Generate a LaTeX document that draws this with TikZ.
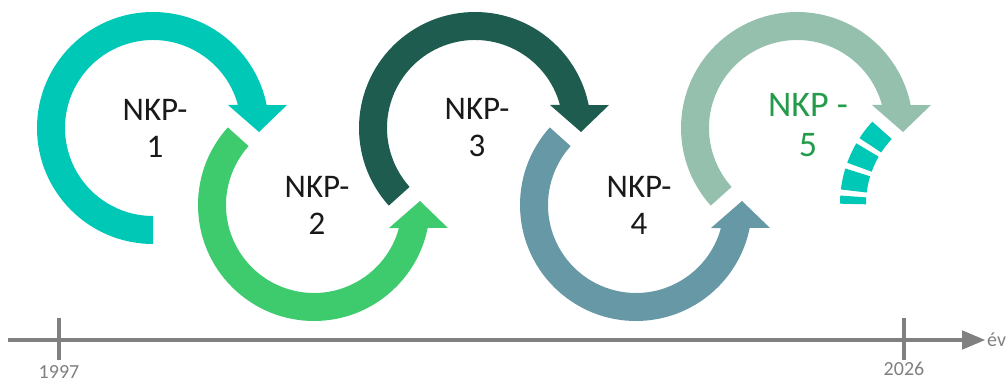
\documentclass[tikz,border=0pt]{standalone}
\usepackage{fontspec}
\setmainfont{Carlito}
\usepackage{tikz}
\usetikzlibrary{arrows,positioning,calc}

\definecolor{nkpteal}{RGB}{0,200,183}
\definecolor{nkpgreen}{RGB}{61,203,110}
\definecolor{nkpdark}{RGB}{30,92,80}
\definecolor{nkpsteel}{RGB}{102,152,165}
\definecolor{nkpsage}{RGB}{150,192,174}
\definecolor{labelgreen}{RGB}{35,155,75}
\definecolor{axisgrey}{RGB}{128,128,128}

% centre, start angle, yscale (1 = upper, -1 = lower), colour
\newcommand{\cyclearrow}[4]{%
  \begin{scope}[shift={(#1)},yscale=#3]
    \fill[#4] (#2:116) arc[start angle=#2,end angle=11.4,radius=116]
      -- (134,23) -- (106,-4) -- (75,23)
      -- (15.2:88) arc[start angle=15.2,end angle=#2,radius=88] -- cycle;
  \end{scope}}

\begin{document}
\begin{tikzpicture}[x=1pt,y=1pt,>=triangle 45,
	nkp/.style={align=center,inner sep=0pt,text=black!90,
		font=\fontsize{33}{37}\selectfont},
	year/.style={inner sep=0pt,text=axisgrey,font=\fontsize{20}{20}\selectfont},
	axis line/.style={draw=axisgrey,line width=4.5pt}]
    \useasboundingbox (0,0) rectangle (1007,383);

    \coordinate (c1) at (153,255);
    \coordinate (c2) at (314,178);
    \coordinate (c3) at (475,255);
    \coordinate (c4) at (636,178);
    \coordinate (c5) at (797,255);
    \coordinate (c6) at (961,179);

    \cyclearrow{c1}{270}{1}{nkpteal}
    \cyclearrow{c2}{222}{-1}{nkpgreen}
    \cyclearrow{c3}{222}{1}{nkpdark}
    \cyclearrow{c4}{222}{-1}{nkpsteel}
    \cyclearrow{c5}{222}{1}{nkpsage}

    \begin{scope}[shift={(c6)}]
    \draw[nkpteal,line width=26pt,dash pattern=on 19pt off 5.5pt]
	(137:108) arc[start angle=137,end angle=180,radius=108];
    \end{scope}

    \node[nkp] (n1) at ([xshift=2]c1) {NKP-\\1};
    \node[nkp] (n2) at ([xshift=3]c2) {NKP-\\2};
    \node[nkp] (n3) at ([xshift=2]c3) {NKP-\\3};
    \node[nkp] (n4) at ([xshift=3]c4) {NKP-\\4};
    \node[nkp,text=labelgreen,font=\fontsize{36}{40}\selectfont] (n5) at ([xshift=11,yshift=3]c5) {NKP -\\5};

    \coordinate (t0) at (8,43);
    \coordinate (t1) at (985,43);
    \coordinate (k1) at (59,65);
    \coordinate (k1b) at (59,23);
    \coordinate (k2) at (904,65);
    \coordinate (k2b) at (904,23);
    \draw[axis line,->] (t0) -- (t1);
    \draw[axis line,line width=4pt] (k1) -- (k1b);
    \draw[axis line,line width=4pt] (k2) -- (k2b);
    \node[year] (y1) [below = 5 of k1b] {1997};
    \node[year] (y2) [below = 2 of k2b] {2026};
    \node[year,anchor=west,font=\fontsize{20}{20}\selectfont] (ev) [right = 2 of t1] {év};

	\end{tikzpicture}
\end{document}
